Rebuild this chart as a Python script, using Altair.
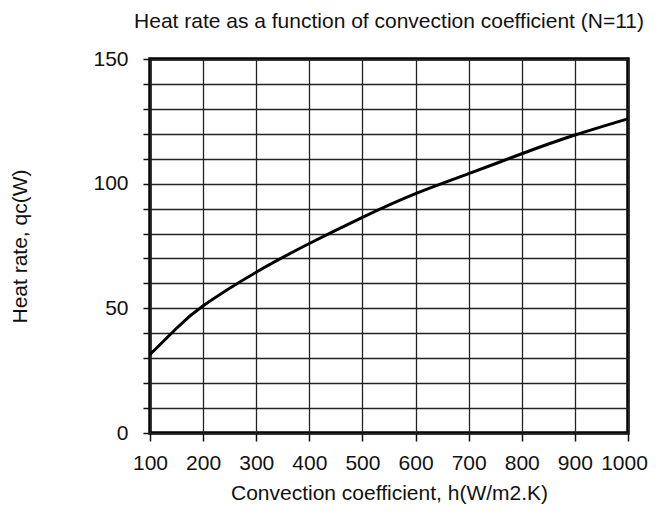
import altair as alt
import pandas as pd

h_values = [100, 150, 200, 300, 400, 500, 600, 700, 800, 900, 1000]
qc_values = [31.5, 42, 51, 64.5, 76, 86.5, 96, 104, 112, 119.5, 126]
x_ticks = [100, 200, 300, 400, 500, 600, 700, 800, 900, 1000]
y_ticks = list(range(0, 151, 10))

df = pd.DataFrame({"h": h_values, "qc": qc_values})

FONT = "Liberation Sans"

chart = (
    alt.Chart(df)
    .mark_line(color="black", strokeWidth=3, interpolate="natural")
    .encode(
        x=alt.X(
            "h:Q",
            scale=alt.Scale(domain=[100, 1000], nice=False, zero=False),
            axis=alt.Axis(
                title="Convection coefficient, h(W/m2.K)",
                values=x_ticks,
                format="d",
                tickSize=8,
                labelPadding=11,
                labelOverlap=False,
                labelFlush=False,
                labelOffset={"condition": {"test": "datum.value === 1000", "value": -4}, "value": 0},
                titlePadding=9,
            ),
        ),
        y=alt.Y(
            "qc:Q",
            scale=alt.Scale(domain=[0, 150], nice=False),
            axis=alt.Axis(
                title="Heat rate, qc(W)",
                values=y_ticks,
                labelExpr="datum.value % 50 === 0 ? datum.label : ''",
                tickSize=7,
                labelPadding=15,
                labelOverlap=False,
                labelFlush=False,
                titlePadding=62,
            ),
        ),
    )
    .properties(
        width=478,
        height=374,
        autosize=alt.AutoSizeParams(type="none"),
        padding={"left": 142, "top": 51, "right": 20, "bottom": 71},
        title=alt.TitleParams(
            "Heat rate as a function of convection coefficient (N=11)",
            anchor="middle",
            offset=16,
            font=FONT,
            fontSize=21,
            fontWeight="normal",
            color="#111",
        ),
    )
    .configure_view(stroke="black", strokeWidth=3.5)
    .configure_axis(
        domain=False,
        grid=True,
        gridColor="#222",
        gridWidth=1.3,
        gridOpacity=1,
        tickColor="#111",
        tickWidth=1.5,
        labelFont=FONT,
        labelFontSize=21,
        labelColor="#111",
        titleFont=FONT,
        titleFontSize=21,
        titleFontWeight="normal",
        titleColor="#111",
    )
)

chart.save("out.html", embed_options={"renderer": "svg", "actions": False})
